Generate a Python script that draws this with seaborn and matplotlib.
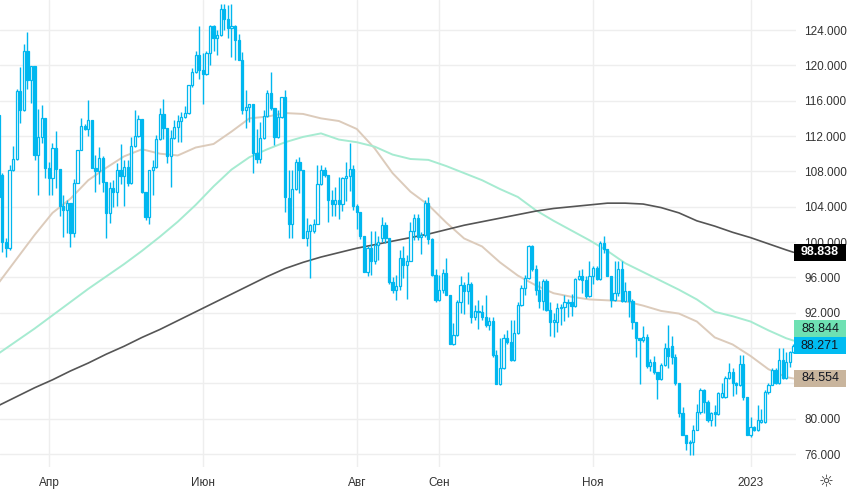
import numpy as np
import pandas as pd
import matplotlib
matplotlib.use("Agg")
import matplotlib.pyplot as plt
import matplotlib.transforms as mtransforms
from matplotlib.patches import Rectangle
import seaborn as sns

# daily candles, Mar 2022 - Jan 2023 (open, high, low, close)
opens = [114.4, 107.6, 100.0, 99.3, 108.1, 109.4, 117.1, 114.9, 121.6, 118.3,
         119.9, 109.8, 111.9, 114.0, 108.4, 107.2, 110.6, 108.3, 104.1, 103.6,
         104.4, 101.0, 106.7, 110.4, 113.1, 112.8, 113.8, 108.4, 108.0, 109.5,
         106.8, 103.3, 106.1, 105.7, 108.2, 107.5, 108.5, 106.7, 110.9, 112.0,
         113.9, 105.7, 102.8, 108.2, 108.5, 111.7, 114.5, 112.9, 109.7, 111.8,
         113.0, 113.7, 114.1, 114.6, 117.8, 119.3, 121.2, 119.5, 119.0, 121.4,
         124.5, 123.1, 123.4, 126.4, 125.3, 124.2, 124.4, 122.9, 120.6, 114.9,
         115.3, 115.6, 110.1, 109.4, 111.8, 114.3, 116.9, 115.2, 111.9, 114.1,
         116.4, 105.0, 102.0, 106.0, 109.1, 108.2, 100.5, 101.2, 101.2, 102.0,
         106.6, 108.2, 107.6, 104.8, 104.3, 104.8, 104.3, 107.2, 107.5, 108.3,
         104.1, 103.4, 100.7, 96.6, 99.3, 97.8, 99.7, 100.4, 101.9, 100.4,
         95.5, 94.6, 95.0, 98.2, 97.4, 97.9, 101.3, 102.7, 100.6, 100.8,
         104.4, 100.3, 96.3, 93.4, 94.6, 96.5, 94.0, 88.5, 89.5, 93.2,
         95.1, 94.4, 95.2, 91.5, 92.2, 92.1, 91.5, 90.6, 91.1, 87.2,
         83.9, 85.7, 89.1, 88.7, 86.6, 89.7, 92.9, 94.8, 95.9, 99.6,
         96.9, 94.6, 93.3, 95.6, 92.3, 91.0, 91.0, 92.5, 92.7, 93.1,
         93.2, 92.8, 95.8, 96.2, 95.7, 93.9, 96.2, 97.1, 95.8, 99.9,
         99.2, 96.1, 93.4, 94.2, 96.9, 93.3, 94.5, 93.3, 90.9, 89.1,
         88.9, 89.2, 86.0, 86.4, 85.3, 84.5, 86.1, 88.0, 88.2, 87.0,
         84.0, 80.6, 78.1, 77.2, 77.4, 78.7, 80.8, 83.2, 81.9, 79.8,
         80.75, 80.5, 82.5, 82.5, 84.6, 85.3, 84.0, 83.8, 86.2, 82.5,
         78.2, 79.1, 78.7, 79.6, 79.6, 83.0, 83.85, 85.5, 84.0, 86.7,
         84.6, 86.4, 87.55]
highs = [115.5, 107.8, 100.5, 108.7, 110.9, 117.3, 119.8, 122.4, 123.8, 119.9,
         119.9, 115.1, 115.5, 114.0, 109.1, 111.2, 112.6, 108.3, 105.3, 104.8,
         104.4, 107.1, 110.4, 114.0, 113.4, 116.1, 113.8, 109.8, 110.8, 109.7,
         106.8, 106.8, 107.0, 108.9, 111.1, 109.3, 109.3, 111.9, 114.9, 114.4,
         113.9, 105.7, 108.2, 109.3, 112.1, 115.2, 116.2, 112.9, 112.7, 113.8,
         114.4, 114.7, 115.4, 117.8, 119.7, 121.6, 124.4, 121.4, 121.6, 124.6,
         124.6, 124.0, 127.0, 127.0, 126.8, 126.9, 124.6, 123.5, 121.5, 117.2,
         115.6, 115.6, 112.8, 113.6, 115.0, 117.2, 119.2, 115.2, 115.0, 116.4,
         117.2, 108.2, 108.2, 109.4, 109.6, 108.2, 102.7, 102.0, 102.6, 108.7,
         108.7, 108.5, 107.6, 105.9, 106.2, 107.4, 107.4, 109.1, 111.2, 108.7,
         104.3, 103.4, 100.7, 99.5, 101.3, 101.3, 100.7, 102.8, 102.3, 100.4,
         96.0, 96.3, 99.1, 99.5, 98.5, 102.3, 103.2, 103.2, 101.1, 104.8,
         105.1, 100.5, 97.0, 96.3, 97.0, 98.2, 94.0, 90.8, 93.4, 96.1,
         95.5, 96.6, 95.5, 92.9, 93.4, 92.9, 94.0, 91.5, 91.5, 87.8,
         89.1, 89.6, 90.0, 91.2, 91.2, 93.2, 95.1, 96.3, 99.7, 99.7,
         97.4, 95.6, 95.8, 95.8, 93.2, 92.0, 93.1, 93.0, 94.0, 93.5,
         94.1, 95.9, 96.8, 97.0, 96.1, 97.8, 97.3, 97.3, 100.1, 100.7,
         99.2, 96.1, 97.8, 97.8, 97.8, 95.5, 94.5, 93.5, 90.9, 89.1,
         90.5, 89.6, 86.8, 87.1, 85.3, 86.3, 88.6, 90.6, 89.4, 87.3,
         84.0, 81.3, 78.1, 77.6, 79.3, 81.7, 83.5, 83.4, 82.1, 80.8,
         81.5, 83.0, 84.0, 84.8, 86.3, 85.7, 84.1, 87.2, 87.2, 82.5,
         80.2, 79.2, 81.5, 81.1, 83.2, 84.0, 85.7, 85.7, 88.0, 88.0,
         87.6, 87.7, 88.5]
lows = [104.5, 98.9, 98.3, 99.1, 108.0, 109.3, 113.5, 114.8, 117.3, 115.7,
        109.3, 105.3, 111.2, 107.2, 105.3, 105.3, 106.1, 102.9, 100.6, 101.0,
        99.4, 100.6, 106.7, 110.4, 112.7, 112.0, 108.4, 105.7, 106.6, 105.7,
        100.4, 102.1, 104.0, 104.1, 106.6, 104.1, 106.3, 106.6, 110.8, 111.9,
        105.6, 102.5, 102.0, 105.3, 108.4, 111.5, 111.7, 108.9, 106.2, 111.7,
        111.3, 111.3, 114.0, 114.5, 117.6, 119.1, 118.5, 115.6, 118.9, 120.0,
        121.6, 121.2, 123.3, 124.0, 123.1, 120.9, 120.6, 120.6, 114.5, 112.9,
        113.6, 107.8, 109.0, 109.0, 111.7, 114.2, 115.0, 111.0, 111.8, 114.0,
        103.4, 100.5, 100.5, 105.9, 105.6, 100.5, 99.6, 95.9, 101.0, 102.0,
        106.4, 107.4, 102.3, 102.9, 102.9, 102.6, 103.5, 104.6, 105.8, 103.6,
        101.5, 100.3, 96.6, 96.1, 96.3, 97.5, 98.0, 100.0, 99.9, 95.2,
        94.2, 93.4, 94.6, 95.9, 93.6, 97.8, 100.2, 100.2, 98.7, 100.6,
        99.8, 96.1, 93.2, 93.3, 94.2, 94.0, 88.5, 88.3, 89.4, 92.0,
        91.8, 93.0, 90.8, 91.2, 90.2, 91.2, 90.4, 90.0, 87.0, 83.9,
        83.8, 85.6, 88.5, 86.5, 86.5, 89.6, 92.8, 94.0, 95.8, 96.7,
        94.0, 92.5, 92.3, 92.2, 89.4, 89.3, 89.8, 90.6, 91.1, 91.5,
        91.6, 92.7, 95.7, 94.2, 93.7, 93.8, 95.2, 95.7, 95.7, 98.8,
        96.1, 92.7, 93.3, 93.9, 93.2, 93.2, 91.5, 90.2, 87.0, 83.9,
        88.7, 85.7, 85.4, 85.1, 82.2, 84.4, 86.0, 85.7, 86.2, 83.8,
        80.2, 78.1, 76.5, 75.9, 75.9, 78.7, 80.5, 80.6, 79.6, 79.2,
        79.2, 80.4, 82.3, 82.3, 84.5, 82.6, 82.8, 83.7, 82.1, 78.1,
        77.9, 78.6, 78.6, 79.5, 79.5, 82.8, 83.8, 83.9, 83.9, 84.5,
        84.5, 85.8, 87.4]
closes = [105.1, 100.0, 99.3, 108.1, 109.4, 117.1, 114.9, 121.6, 118.3, 119.9,
          109.8, 111.9, 114.0, 108.4, 107.2, 110.6, 108.3, 104.1, 103.6, 104.4,
          101.0, 106.7, 110.4, 113.1, 112.8, 113.8, 108.4, 108.0, 109.5, 106.8,
          103.3, 106.1, 105.7, 108.2, 107.5, 108.5, 106.7, 110.9, 112.0, 113.9,
          105.7, 102.8, 108.2, 108.5, 111.7, 114.5, 112.9, 109.7, 111.8, 113.0,
          113.7, 114.1, 114.6, 117.8, 119.3, 121.2, 119.5, 119.0, 121.4, 124.5,
          123.1, 123.4, 126.4, 125.3, 124.2, 124.4, 122.9, 120.6, 114.9, 115.3,
          115.6, 110.1, 109.4, 111.8, 114.3, 116.9, 115.2, 111.9, 114.1, 116.4,
          105.1, 102.0, 106.0, 109.1, 108.2, 100.5, 101.2, 101.9, 102.0, 106.6,
          108.2, 107.6, 104.8, 104.3, 104.8, 104.3, 107.2, 107.5, 108.3, 104.1,
          103.4, 100.7, 96.6, 99.3, 97.8, 99.7, 100.0, 101.9, 100.4, 95.5,
          94.6, 95.0, 98.2, 97.4, 97.9, 101.3, 102.7, 100.6, 100.8, 104.4,
          100.3, 96.3, 93.4, 94.6, 96.5, 94.0, 88.5, 89.5, 93.2, 95.1,
          94.4, 95.2, 91.5, 92.2, 92.1, 91.5, 90.6, 91.1, 87.2, 83.9,
          85.7, 89.1, 88.7, 86.6, 89.7, 92.9, 94.8, 95.9, 99.6, 96.9,
          94.6, 93.3, 95.6, 92.3, 91.0, 91.2, 92.5, 92.7, 93.2, 93.2,
          92.8, 95.8, 96.2, 95.7, 93.9, 96.2, 97.1, 95.8, 99.9, 99.2,
          96.1, 93.4, 94.2, 96.9, 93.3, 94.5, 93.3, 90.9, 89.1, 88.9,
          89.2, 86.0, 86.4, 85.3, 84.5, 86.1, 88.0, 87.1, 87.0, 84.0,
          80.6, 78.1, 77.2, 77.4, 78.7, 80.8, 83.2, 81.9, 79.8, 80.6,
          80.5, 82.9, 82.9, 84.6, 85.3, 84.0, 83.8, 86.2, 82.5, 78.2,
          79.1, 78.7, 79.8, 79.8, 83.0, 83.85, 85.5, 84.0, 86.7, 84.6,
          86.4, 87.55, 88.271]

# moving averages, read every 5th session
ma_idx = [0, 5, 10, 15, 20, 25, 30, 35, 40, 45, 50, 55, 60, 65, 70, 75, 80,
          85, 90, 95, 100, 105, 110, 115, 120, 125, 130, 135, 140, 145, 150,
          155, 160, 165, 170, 175, 180, 185, 190, 195, 200, 205, 210, 215,
          220, 222]
ma_short = [95.4, 98.1, 100.8, 103.3, 104.9, 107.0, 108.4, 109.7, 110.5, 110.0,
            109.8, 110.7, 111.1, 112.5, 114.0, 114.2, 114.6, 114.5, 114.0, 113.7,
            112.8, 110.6, 107.8, 105.7, 104.2, 102.2, 100.4, 99.5, 97.7, 96.2,
            95.1, 94.2, 93.8, 93.5, 93.4, 93.3, 92.8, 92.2, 91.9, 91.0,
            89.2, 88.4, 87.1, 85.6, 84.7, 84.554]
ma_mid = [87.4, 88.8, 90.2, 91.7, 93.2, 94.7, 96.1, 97.5, 99.0, 100.6,
          102.3, 104.2, 106.3, 108.2, 109.6, 110.5, 111.3, 111.9, 112.3, 111.6,
          111.3, 110.8, 109.9, 109.4, 109.3, 108.6, 107.8, 107.0, 106.0, 105.1,
          103.6, 102.4, 101.3, 100.2, 99.0, 97.6, 96.6, 95.6, 94.6, 93.5,
          92.1, 91.6, 91.0, 90.0, 89.1, 88.844]
ma_long = [81.5, 82.5, 83.5, 84.4, 85.4, 86.3, 87.3, 88.2, 89.2, 90.1,
           91.1, 92.1, 93.1, 94.1, 95.1, 96.1, 97.0, 97.7, 98.3, 98.8,
           99.3, 99.7, 100.1, 100.5, 100.9, 101.4, 101.9, 102.3, 102.7, 103.1,
           103.5, 103.8, 104.0, 104.2, 104.4, 104.4, 104.3, 103.9, 103.3, 102.4,
           101.8, 101.1, 100.5, 99.8, 99.1, 98.838]

price_ticks = [76, 80, 84, 88, 92, 96, 100, 104, 108, 112, 116, 120, 124]
hidden_ticks = [84, 88]  # covered by the value boxes
month_starts = ["2022-04-01", "2022-06-01", "2022-08-01", "2022-09-01",
                "2022-11-01", "2023-01-01"]
month_labels = ["Апр", "Июн", "Авг", "Сен", "Ноя", "2023"]

CANDLE = "#00b7ef"
C_SHORT = "#dccbbb"
C_MID = "#a6ebd1"
C_LONG = "#555555"

sns.set_theme(style="white")
plt.rcParams["font.family"] = ["Liberation Sans", "DejaVu Sans"]

n = len(closes)
idx = np.arange(n)
dates = pd.bdate_range("2022-03-14", periods=n)
tick_pos = [int(np.searchsorted(dates, pd.Timestamp(d))) for d in month_starts]

fig = plt.figure(figsize=(8.5, 4.9), dpi=100)
ax = fig.add_axes([0, 23 / 490, 796 / 850, 467 / 490])

o = np.array(opens)
c = np.array(closes)
up = c >= o
bottom = np.minimum(o, c)
height = np.maximum(np.abs(c - o), 0.08)

ax.vlines(idx, lows, highs, color=CANDLE, lw=1.0, zorder=3)
ax.bar(idx, height, bottom=bottom, width=0.62,
       color=np.where(up, "white", CANDLE), edgecolor=CANDLE,
       linewidth=0.9, zorder=4)

sns.lineplot(x=ma_idx, y=ma_short, ax=ax, color=C_SHORT, lw=1.4, zorder=2)
sns.lineplot(x=ma_idx, y=ma_mid, ax=ax, color=C_MID, lw=1.4, zorder=2)
sns.lineplot(x=ma_idx, y=ma_long, ax=ax, color=C_LONG, lw=1.2, zorder=2)

ax.set_xlim(0.335, 222.7)
ax.set_ylim(74.53, 127.4)
for s in ax.spines.values():
    s.set_visible(False)

ax.set_yticks(price_ticks)
ax.set_yticklabels(["" if t in hidden_ticks else f"{t:.3f}" for t in price_ticks])
ax.yaxis.tick_right()
ax.set_xticks(tick_pos)
ax.set_xticklabels(month_labels)
ax.tick_params(axis="y", length=0, pad=6, labelsize=8.5, labelcolor="#333333")
ax.tick_params(axis="x", length=0, pad=7, labelsize=8.5, labelcolor="#333333")
ax.grid(True, color="#eeeeee", lw=1.0, zorder=0)
ax.set_axisbelow(True)

# last-value labels on the price scale
trans = mtransforms.blended_transform_factory(fig.transFigure, ax.transData)
box_h = 17 / 8.833
labels = [(ma_long[-1], ma_long[-1], "#000000", "white"),
          (ma_mid[-1], closes[-1] + box_h, "#6ee1b3", "#131722"),
          (closes[-1], closes[-1], "#00bcf2", "#131722"),
          (ma_short[-1], ma_short[-1], "#c9b59d", "#131722")]
for val, ypos, bg, fg in labels:
    ax.add_patch(Rectangle((794 / 850, ypos - box_h / 2), 52 / 850, box_h,
                           transform=trans, facecolor=bg, edgecolor="none",
                           clip_on=False, zorder=6))
    ax.text(820 / 850, ypos, f"{val:.3f}", transform=trans, ha="center",
            va="center", fontsize=9, color=fg, zorder=7, clip_on=False,
            fontweight="bold" if bg == "#000000" else "normal")

fig.text(826 / 850, 1 - 482 / 490, "☼", ha="center", va="center",
         fontsize=12, color="#333333", family="DejaVu Sans")

fig.savefig("out.png", dpi=100)
